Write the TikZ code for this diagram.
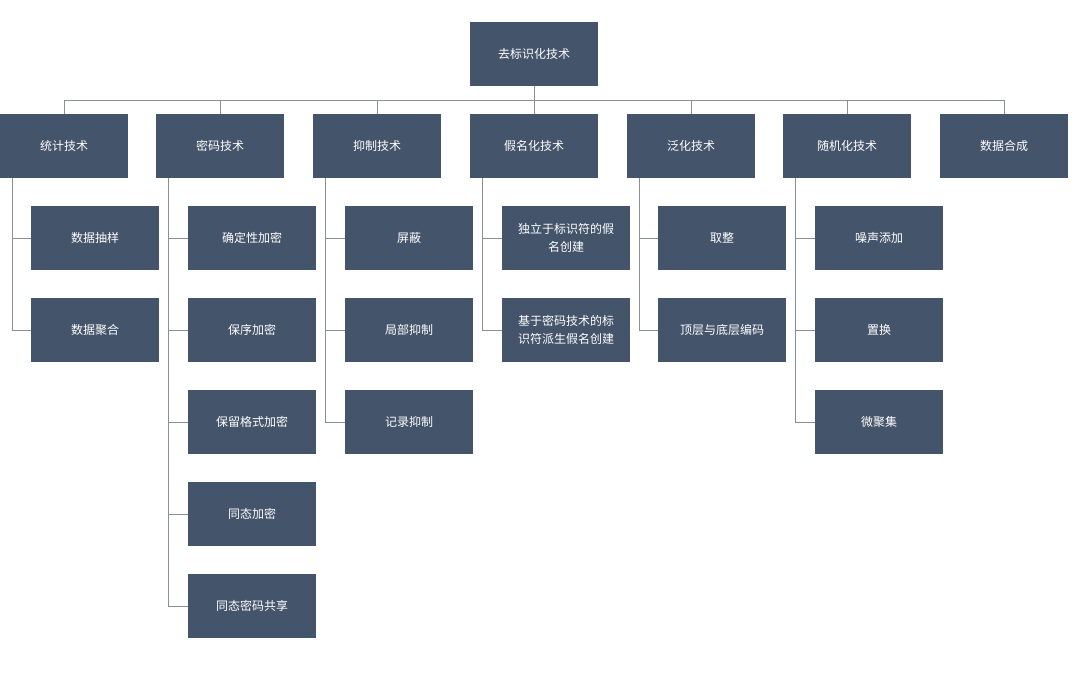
\documentclass[tikz,border=0pt]{standalone}
\usepackage{fontspec}
\newfontfamily\cjk{Noto Sans CJK SC}
\begin{document}
\begin{tikzpicture}[x=1pt,y=-1pt,
  box/.style={fill=boxc,minimum width=128pt,minimum height=64pt,inner sep=2pt,text=white,font=\cjk\fontsize{12}{18}\selectfont,align=center,anchor=north west},
  ln/.style={draw=linec,line width=1pt}]
\definecolor{boxc}{HTML}{44546A}
\definecolor{linec}{HTML}{8A8F96}
\useasboundingbox (0,0) rectangle (1080,674);
\node[box] (r) at (470,22) {去标识化技术};
\node[box] (a) at (0,114) {统计技术};
\node[box] (b) at (156,114) {密码技术};
\node[box] (c) at (313,114) {抑制技术};
\node[box] (d) at (470,114) {假名化技术};
\node[box] (e) at (627,114) {泛化技术};
\node[box] (f) at (783,114) {随机化技术};
\node[box] (g) at (940,114) {数据合成};
\node[box] (a1) at (31,206) {数据抽样};
\node[box] (a2) at (31,298) {数据聚合};
\node[box] (b1) at (188,206) {确定性加密};
\node[box] (b2) at (188,298) {保序加密};
\node[box] (b3) at (188,390) {保留格式加密};
\node[box] (b4) at (188,482) {同态加密};
\node[box] (b5) at (188,574) {同态密码共享};
\node[box] (c1) at (345,206) {屏蔽};
\node[box] (c2) at (345,298) {局部抑制};
\node[box] (c3) at (345,390) {记录抑制};
\node[box] (d1) at (502,206) {独立于标识符的假\\名创建};
\node[box] (d2) at (502,298) {基于密码技术的标\\识符派生假名创建};
\node[box] (e1) at (658,206) {取整};
\node[box] (e2) at (658,298) {顶层与底层编码};
\node[box] (f1) at (815,206) {噪声添加};
\node[box] (f2) at (815,298) {置换};
\node[box] (f3) at (815,390) {微聚集};
\draw[ln] (r.south) -- ++(0,14) coordinate (bus);
\draw[ln] (a.north) |- (bus) -| (g.north);
\foreach \n in {b,c,d,e,f} \draw[ln] (\n.north) -- (\n.north |- bus);
\foreach \p/\cs in {a/{a1,a2},b/{b1,b2,b3,b4,b5},c/{c1,c2,c3},d/{d1,d2},e/{e1,e2},f/{f1,f2,f3}}
  \foreach \k in \cs \draw[ln] ([xshift=12pt]\p.south west) |- (\k.west);
\end{tikzpicture}
\end{document}
